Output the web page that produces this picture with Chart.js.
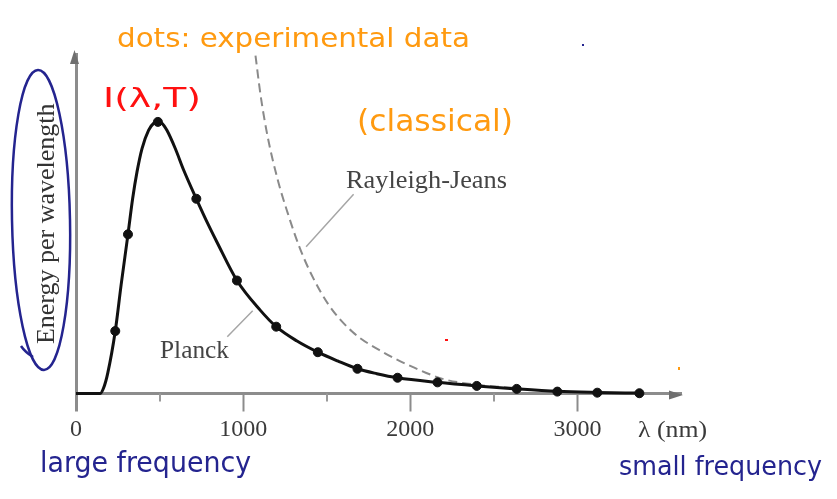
<!DOCTYPE html>
<html>
<head>
<meta charset="utf-8">
<script src="https://cdn.jsdelivr.net/npm/chart.js@4"></script>
<style>
html,body{margin:0;padding:0;background:#fff}
#wrap{width:837px;height:499px;position:relative}
</style>
</head>
<body>
<div id="wrap"><canvas id="c"></canvas></div>
<script>
// ---- data ----
const planckWavelengths = [0, 145, 165, 190, 235, 270, 311, 339, 365, 395, 434, 465, 490, 515, 544, 594, 644, 720, 793, 843, 963, 1102, 1198, 1320, 1447, 1565, 1684, 1800, 1924, 2163, 2398, 2637, 2880, 3119, 3371];
const planckValues      = [0, 0, 2, 7.5, 23, 40, 58.6, 71.8, 81.6, 90.2, 96.9, 99.5, 100, 99.5, 96.9, 90.2, 82.3, 71.7, 62, 55.8, 41.6, 30.7, 24.6, 19.4, 15.2, 12, 9.1, 7.3, 5.8, 4.1, 2.8, 1.7, 0.8, 0.4, 0.15];

const dotWavelengths = [235, 311, 490, 720, 963, 1198, 1447, 1684, 1924, 2163, 2398, 2637, 2880, 3119, 3371];
const dotValues      = [23, 58.6, 100, 71.7, 41.6, 24.6, 15.2, 9.1, 5.8, 4.1, 2.8, 1.7, 0.7, 0.3, 0.1];

const rjWavelengths = [1074, 1104, 1145, 1206, 1267, 1337, 1408, 1510, 1652, 1834, 2017, 2199, 2400, 2640];
const rjValues      = [124.4, 110, 95.1, 78.9, 66.4, 53.9, 43.9, 32.8, 22.8, 15.3, 9.7, 5.3, 3.2, 1.95];

const majorTicks = [0, 1000, 2000, 3000];
const minorTicks = [500, 1500, 2500];
const xMin = 0, xMax = 3620, yMin = 0, yMax = 125;

const yAxisTitle = 'Energy per wavelength';
const xAxisUnit = 'λ (nm)';
const planckLabel = 'Planck';
const rjLabel = 'Rayleigh-Jeans';
const noteDots = 'dots: experimental data';
const noteClassical = '(classical)';
const noteIntensity = 'I(λ,T)';
const noteLarge = 'large frequency';
const noteSmall = 'small frequency';

const toXY = (xs, ys) => xs.map((x, i) => ({x, y: ys[i]}));

function drawFit(ctx, text, x, baseline, width, size, family, color, weight) {
  ctx.save();
  ctx.font = (weight || 'normal') + ' ' + size + 'px ' + family;
  const w = ctx.measureText(text).width;
  ctx.translate(x, baseline);
  ctx.scale(width / w, 1);
  ctx.fillStyle = color;
  ctx.textBaseline = 'alphabetic';
  ctx.textAlign = 'left';
  ctx.fillText(text, 0, 0);
  ctx.restore();
}

const decor = {
  id: 'decor',
  afterDraw(chart) {
    const {ctx, chartArea: ca} = chart;
    const xs = chart.scales.x;
    ctx.save();
    // minor ticks
    ctx.strokeStyle = '#9a9a9a';
    ctx.lineWidth = 2;
    minorTicks.forEach(v => {
      const px = Math.round(xs.getPixelForValue(v));
      ctx.beginPath();
      ctx.moveTo(px, xs.top);
      ctx.lineTo(px, xs.top + 8);
      ctx.stroke();
    });
    // arrow heads
    ctx.fillStyle = '#6f6f6f';
    const ay = ca.bottom + 1.5;
    ctx.beginPath();
    ctx.moveTo(ca.right + 2, ay);
    ctx.lineTo(ca.right - 12, ay - 4.5);
    ctx.lineTo(ca.right - 12, ay + 4.5);
    ctx.closePath();
    ctx.fill();
    const ax = ca.left - 1.5;
    ctx.beginPath();
    ctx.moveTo(ax, ca.top - 4);
    ctx.lineTo(ax - 4.5, ca.top + 10);
    ctx.lineTo(ax + 4.5, ca.top + 10);
    ctx.closePath();
    ctx.fill();

    // leader lines
    ctx.strokeStyle = '#a6a6a6';
    ctx.lineWidth = 1.5;
    ctx.beginPath();
    ctx.moveTo(353.6, 194.2); ctx.lineTo(306.1, 246.8);
    ctx.moveTo(227.3, 336.7); ctx.lineTo(252.7, 310.7);
    ctx.stroke();

    // printed labels
    const serif = '"Liberation Serif", "Times New Roman", serif';
    drawFit(ctx, rjLabel, 346, 188, 161, 25, serif, '#444');
    drawFit(ctx, planckLabel, 160, 358, 69, 25, serif, '#444');
    drawFit(ctx, xAxisUnit, 638, 437, 69, 24, serif, '#3a3a3a');

    // handwritten notes
    const hand = '"DejaVu Sans", sans-serif';
    drawFit(ctx, noteDots, 117, 47, 353, 27, hand, '#ff9a10');
    drawFit(ctx, noteClassical, 357, 131, 156, 30, hand, '#ff9a10');
    drawFit(ctx, noteIntensity, 103, 107, 98, 26, hand, '#ff1010');
    drawFit(ctx, noteLarge, 40, 472, 211, 28, hand, '#24248f');
    drawFit(ctx, noteSmall, 619, 475, 203, 26, hand, '#24248f');

    // ellipse round the axis title
    ctx.strokeStyle = '#24248f';
    ctx.lineWidth = 2.5;
    ctx.beginPath();
    ctx.ellipse(41, 220, 29, 150, -0.02, 0, Math.PI * 2);
    ctx.stroke();
    ctx.beginPath();
    ctx.moveTo(33, 357);
    ctx.quadraticCurveTo(25, 352, 21, 346);
    ctx.stroke();

    // stray specks
    ctx.fillStyle = '#24248f'; ctx.fillRect(582, 44, 2, 2);
    ctx.fillStyle = '#ff1010'; ctx.fillRect(445, 339, 3, 2);
    ctx.fillStyle = '#ff9a10'; ctx.fillRect(678, 367, 2, 3);
    ctx.restore();
  }
};

const serifFamily = '"Liberation Serif", "Times New Roman", serif';

new Chart(document.getElementById('c'), {
  type: 'line',
  data: {
    datasets: [
      {
        label: 'experimental data',
        type: 'scatter',
        data: toXY(dotWavelengths, dotValues),
        backgroundColor: '#111',
        borderColor: '#111',
        pointRadius: 4.5,
        pointHoverRadius: 4.5,
        showLine: false,
        clip: false
      },
      {
        label: planckLabel,
        data: toXY(planckWavelengths, planckValues),
        borderColor: '#111',
        borderWidth: 3,
        pointRadius: 0,
        cubicInterpolationMode: 'monotone',
        fill: false,
        clip: false
      },
      {
        label: rjLabel,
        data: toXY(rjWavelengths, rjValues),
        borderColor: '#8a8a8a',
        borderWidth: 2,
        borderDash: [9, 5],
        pointRadius: 0,
        cubicInterpolationMode: 'monotone',
        fill: false,
        clip: false
      }
    ]
  },
  options: {
    responsive: true,
    maintainAspectRatio: false,
    animation: false,
    events: [],
    layout: {padding: {left: 0, right: 156, top: 54, bottom: 0}},
    plugins: {legend: {display: false}, tooltip: {enabled: false}, title: {display: false}},
    scales: {
      x: {
        type: 'linear',
        position: 'bottom',
        min: xMin,
        max: xMax,
        afterBuildTicks: s => { s.ticks = majorTicks.map(v => ({value: v})); },
        afterFit: s => { s.height = 105.5; },
        ticks: {
          autoSkip: false,
          maxRotation: 0,
          padding: 4,
          color: '#3a3a3a',
          font: {family: serifFamily, size: 24},
          callback: v => String(v)
        },
        grid: {
          drawOnChartArea: false,
          drawTicks: true,
          tickLength: 18,
          tickColor: '#8c8c8c',
          tickWidth: c => (c.tick && c.tick.value === 0 ? 3 : 2)
        },
        border: {display: true, color: '#8c8c8c', width: 3}
      },
      y: {
        type: 'linear',
        position: 'left',
        min: yMin,
        max: yMax,
        afterFit: s => { s.width = 76; },
        ticks: {display: false},
        grid: {display: false},
        border: {display: true, color: '#8c8c8c', width: 3},
        title: {
          display: true,
          text: yAxisTitle,
          color: '#333',
          font: {family: serifFamily, size: 26},
          padding: {top: 32, bottom: 0}
        }
      }
    }
  },
  plugins: [decor]
});
</script>
</body>
</html>
